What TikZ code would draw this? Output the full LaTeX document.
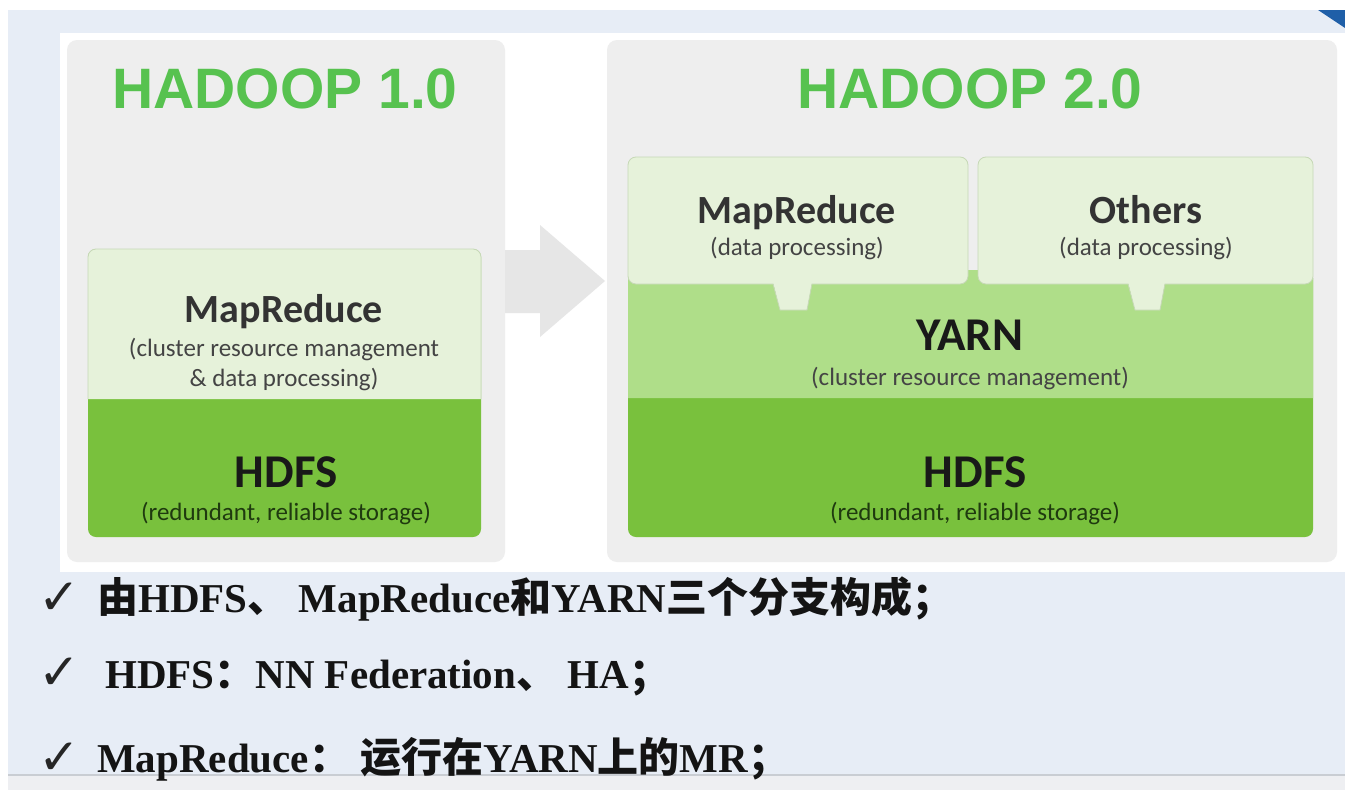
\documentclass[tikz,border=0pt]{standalone}
\usepackage{fontspec}
\setmainfont{Liberation Serif}
\newfontfamily\titlefont{Liberation Sans}
\newfontfamily\boxfont{Carlito}
\newfontfamily\cjk{Noto Sans CJK SC}
\newfontfamily\symfont{DejaVu Sans}
\definecolor{slidebg}{HTML}{E7EDF6}
\definecolor{bandbg}{HTML}{EEEFF2}
\definecolor{bandline}{HTML}{C9CDD3}
\definecolor{panelgrey}{HTML}{EEEEEE}
\definecolor{arrowgrey}{HTML}{E6E6E6}
\definecolor{lightgreen}{HTML}{E6F2DA}
\definecolor{lgborder}{HTML}{C6D8B6}
\definecolor{yarngreen}{HTML}{AFDE89}
\definecolor{hdfsgreen}{HTML}{79C13D}
\definecolor{titlegreen}{HTML}{57C24F}
\definecolor{darktext}{HTML}{333333}
\definecolor{subtext}{HTML}{444444}
\definecolor{hdfssub}{HTML}{1F3A0F}
\definecolor{cornerblue}{HTML}{1F5FA8}
\tikzset{
  title/.style={anchor=base, inner sep=0pt, font=\titlefont\bfseries\fontsize{57}{60}\selectfont, text=titlegreen},
  boxtitle/.style={anchor=base, inner sep=0pt, font=\boxfont\bfseries\fontsize{40}{44}\selectfont, text=darktext},
  bigtitle/.style={anchor=base, inner sep=0pt, font=\boxfont\bfseries\fontsize{47}{50}\selectfont, text=black!90},
  subline/.style={anchor=base, inner sep=0pt, font=\boxfont\fontsize{25}{27}\selectfont, text=subtext},
  hdfsline/.style={anchor=base, inner sep=0pt, font=\boxfont\fontsize{25}{27}\selectfont, text=hdfssub},
  bullet/.style={anchor=base west, inner sep=0pt, font=\bfseries\fontsize{41}{44}\selectfont, text=black!92},
  tick/.style={anchor=base west, inner sep=0pt, font=\symfont\fontsize{50}{54}\selectfont, text=black!85},
}
\begin{document}
\begin{tikzpicture}[x=1pt,y=-1pt]
\useasboundingbox (0,0) rectangle (1345,790);
% slide background
\fill[white] (0,0) rectangle (1345,790);
\fill[slidebg] (8,10) rectangle (1345,775);
\fill[bandbg] (8,775) rectangle (1345,790);
\draw[bandline, line width=1.5pt] (8,775) -- (1345,775);
\fill[cornerblue] (1318,10) -- (1345,10) -- (1345,28) -- cycle;
% white picture panel
\fill[white] (60,33) rectangle (1345,572);
% grey panels
\fill[panelgrey, rounded corners=10] (67,40) rectangle (505,562);
\fill[panelgrey, rounded corners=10] (607,40) rectangle (1337,562);
% arrow
\fill[arrowgrey] (505,250) -- (540,250) -- (540,225) -- (605,281) -- (540,337) -- (540,313) -- (505,313) -- cycle;
% titles
\node[title] (t1) at (285,108) {HADOOP 1.0};
\node[title] (t2) at (970,108) {HADOOP 2.0};
% ---- Hadoop 1 stack
\fill[hdfsgreen, rounded corners=8] (88,249) rectangle (481,537);
\fill[lightgreen] (88,399) {[rounded corners=8] -- (88,249) -- (481,249)} -- (481,399) -- cycle;
\draw[lgborder, line width=0.8pt] (88,399) {[rounded corners=8] -- (88,249) -- (481,249)} -- (481,399);
\node[boxtitle] (mr1) at (284,322) {MapReduce};
\node[subline] (mr1a) at (284,356) {(cluster resource management};
\node[subline] (mr1b) at (284,386) {\& data processing)};
\node[bigtitle] (hd1) at (286,487) {HDFS};
\node[hdfsline] (hd1a) at (286,520) {(redundant, reliable storage)};
% ---- Hadoop 2 stack
\fill[hdfsgreen, rounded corners=8] (628,270) rectangle (1313,537);
\fill[yarngreen] (628,398) {[rounded corners=8] -- (628,270) -- (1313,270)} -- (1313,398) -- cycle;
% upper boxes
\fill[lightgreen, rounded corners=8] (628,157) rectangle (968,284);
\fill[lightgreen, rounded corners=8] (978,157) rectangle (1313,284);
\draw[lgborder, line width=0.8pt, rounded corners=8] (628,157) rectangle (968,284);
\draw[lgborder, line width=0.8pt, rounded corners=8] (978,157) rectangle (1313,284);
% tabs
\fill[lightgreen] (773,282) -- (780,310) -- (807,310) -- (812,282) -- cycle;
\draw[lgborder, line width=0.8pt] (773,284) -- (780,310) -- (807,310) -- (812,284);
\fill[lightgreen] (1128,282) -- (1135,310) -- (1160,310) -- (1165,282) -- cycle;
\draw[lgborder, line width=0.8pt] (1128,284) -- (1135,310) -- (1160,310) -- (1165,284);
\node[boxtitle] (mr2) at (797,223) {MapReduce};
\node[subline] (mr2a) at (797,255) {(data processing)};
\node[boxtitle] (ot2) at (1146,223) {Others};
\node[subline] (ot2a) at (1146,255) {(data processing)};
\node[bigtitle] (ya2) at (970,350) {YARN};
\node[subline] (ya2a) at (970,385) {(cluster resource management)};
\node[bigtitle] (hd2) at (975,487) {HDFS};
\node[hdfsline] (hd2a) at (975,520) {(redundant, reliable storage)};
% ---- bullets
\node[tick] (c1) at (38,614) {✓};
\node[tick] (c2) at (38,689) {✓};
\node[tick] (c3) at (38,774) {✓};
\node[bullet] (b1) at (97,612) {{\cjk 由}HDFS{\cjk 、} MapReduce{\cjk 和}YARN{\cjk 三个分支构成；}};
\node[bullet] (b2) at (105,688) {HDFS{\cjk ：}NN Federation{\cjk 、} HA{\cjk ；}};
\node[bullet] (b3) at (97,772) {MapReduce{\cjk ：} {\cjk 运行在}YARN{\cjk 上的}MR{\cjk ；}};
\end{tikzpicture}
\end{document}
